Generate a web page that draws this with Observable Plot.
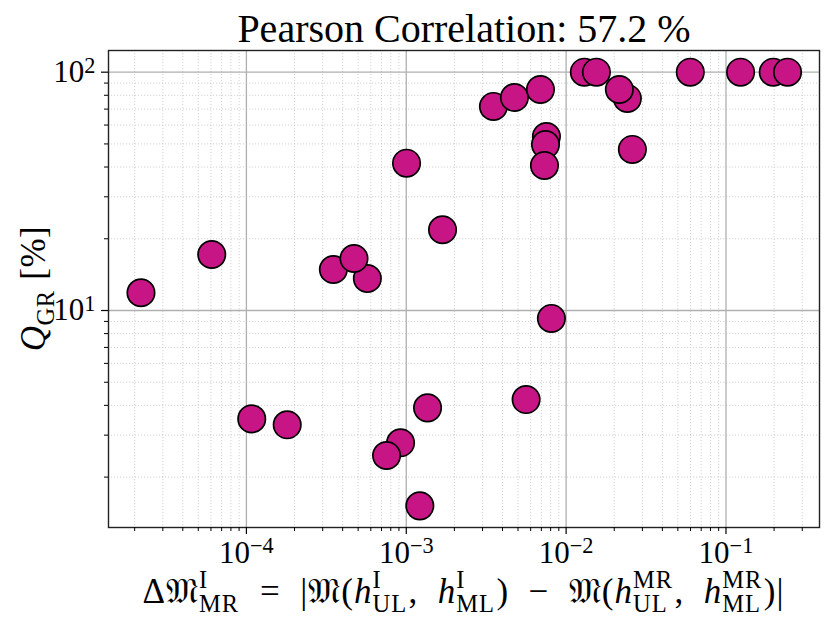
<!DOCTYPE html>
<html><head><meta charset="utf-8">
<script src="https://cdn.jsdelivr.net/npm/d3@7"></script>
<script src="https://cdn.jsdelivr.net/npm/@observablehq/plot@0.6"></script>
<style>
body{margin:0;background:#fff}
svg{font-family:"Liberation Serif","DejaVu Serif",serif}
</style>
</head><body><div id="chart"></div>
<script>
// ---- data ----
const deltaM = [2.19e-5, 6.07e-5, 1.08e-4, 1.80e-4, 3.50e-4, 5.71e-4, 4.71e-4, 9.21e-4, 7.53e-4, 1.004e-3,
  1.216e-3, 1.359e-3, 1.686e-3, 3.51e-3, 4.75e-3, 5.62e-3, 6.91e-3, 7.53e-3, 7.43e-3, 7.32e-3,
  8.09e-3, 1.30e-2, 1.547e-2, 2.416e-2, 2.153e-2, 2.597e-2, 5.98e-2, 0.1234, 0.1975, 0.2427];
const qGR = [11.87, 17.18, 3.51, 3.315, 14.86, 13.62, 16.53, 2.786, 2.464, 41.5,
  1.515, 3.905, 21.82, 71.8, 78.3, 4.231, 84.6, 53.7, 49.7, 40.6,
  9.26, 100, 100, 77.6, 84.6, 47.4, 100, 100, 100, 100];
const xMajorTicks = [1e-4, 1e-3, 1e-2, 1e-1];
const yMajorTicks = [10, 100];
const xDomain = [1.372e-5, 0.3846];
const yDomain = [1.229, 123.3];
const titleText = "Pearson Correlation: 57.2 %";

const points = deltaM.map((d, i) => ({x: d, y: qGR[i]}));
function minorTicks([lo, hi]) {
  const out = [];
  for (let k = Math.floor(Math.log10(lo)); k <= Math.ceil(Math.log10(hi)); k++)
    for (let m = 2; m <= 9; m++) { const v = m * 10 ** k; if (v >= lo && v <= hi) out.push(v); }
  return out;
}
const xMinor = minorTicks(xDomain), yMinor = minorTicks(yDomain);
const expFmt = d => "10^" + String(Math.round(Math.log10(d))).replace("-", "\u2212");

const minorGrid = {stroke: "#c8c8c8", strokeOpacity: 1, strokeWidth: 0.8, strokeDasharray: "1.2,1.8"};
const majorGrid = {stroke: "#b0b0b0", strokeOpacity: 1, strokeWidth: 1.3};

const plot = Plot.plot({
  width: 831, height: 626,
  marginLeft: 108, marginRight: 12, marginTop: 50, marginBottom: 99,
  style: {background: "#fff", color: "#000", fontFamily: "'Liberation Serif','DejaVu Serif',serif"},
  x: {type: "log", domain: xDomain},
  y: {type: "log", domain: yDomain},
  marks: [
    Plot.gridX(xMinor, minorGrid),
    Plot.gridY(yMinor, minorGrid),
    Plot.gridX(xMajorTicks, majorGrid),
    Plot.gridY(yMajorTicks, majorGrid),
    Plot.dot(points, {x: "x", y: "y", r: 13.7, fill: "#C71585", stroke: "#000", strokeWidth: 1.7}),
    Plot.frame({stroke: "#222", strokeWidth: 1.4}),
    Plot.axisX(xMinor, {tickSize: 4, tickFormat: () => "", label: null, strokeWidth: 1}),
    Plot.axisY(yMinor, {tickSize: 4, tickFormat: () => "", label: null, strokeWidth: 1}),
    Plot.axisX(xMajorTicks, {tickSize: 7, tickPadding: 6, tickFormat: expFmt, fontSize: 31, label: null, strokeWidth: 1.2}),
    Plot.axisY(yMajorTicks, {tickSize: 7, tickPadding: 6, tickFormat: expFmt, fontSize: 31, label: null, strokeWidth: 1.2}),
    Plot.text([titleText], {frameAnchor: "top", lineAnchor: "bottom", dy: -9, fontSize: 40, fill: "#000"})
  ]
});
document.getElementById("chart").appendChild(plot);

// superscript exponents on tick labels
plot.querySelectorAll('g[aria-label="x-axis tick label"] text, g[aria-label="y-axis tick label"] text').forEach(t => {
  const s = t.textContent;
  if (!s.includes("^")) return;
  const [b, e] = s.split("^");
  t.textContent = "";
  const sel = d3.select(t);
  sel.append("tspan").text(b);
  sel.append("tspan").attr("dy", "-0.42em").attr("font-size", "0.72em").text(e);
});

// rich math-like label builder
const svg = d3.select(plot);
function richLabel(segs, fs, ls) {
  const g = svg.append("g").attr("fill", "#000").attr("text-anchor", "start");
  let x = 0;
  const put = (txt, dy, size, italic) => {
    const t = g.append("text").attr("x", x).attr("y", dy).attr("font-size", size)
      .attr("text-anchor", "start").attr("letter-spacing", ls)
      .attr("font-style", italic ? "italic" : null).attr("xml:space", "preserve").text(txt);
    return t.node().getComputedTextLength();
  };
  for (const s of segs) {
    if (s.sup !== undefined) {
      const w1 = s.sup ? put(s.sup, -0.42 * fs, 0.7 * fs, false) : 0;
      const w2 = put(s.sub, 0.27 * fs, 0.7 * fs, false);
      x += Math.max(w1, w2) + 0.04 * fs;
    } else {
      x += put(s.t, 0, fs, s.i);
    }
  }
  return {g, w: x};
}
const F = "\u{1D510}";
const xl = richLabel([
  {t: "\u0394" + F}, {sup: "I", sub: "MR"}, {t: "  =  |" + F + "("}, {t: "h", i: true}, {sup: "I", sub: "UL"},
  {t: ",  "}, {t: "h", i: true}, {sup: "I", sub: "ML"}, {t: ")  \u2212  " + F + "("}, {t: "h", i: true},
  {sup: "MR", sub: "UL"}, {t: ",  "}, {t: "h", i: true}, {sup: "MR", sub: "ML"}, {t: ")|"}
], 35, 1);
xl.g.attr("transform", `translate(${(108 + 819) / 2 - xl.w / 2},603)`);

const yl = richLabel([{t: "Q", i: true}, {sup: "", sub: "GR"}, {t: " [%]"}], 35, 0.5);
yl.g.attr("transform", `translate(45,${(50 + 527) / 2}) rotate(-90) translate(${-yl.w / 2},0)`);
</script>
</body></html>
